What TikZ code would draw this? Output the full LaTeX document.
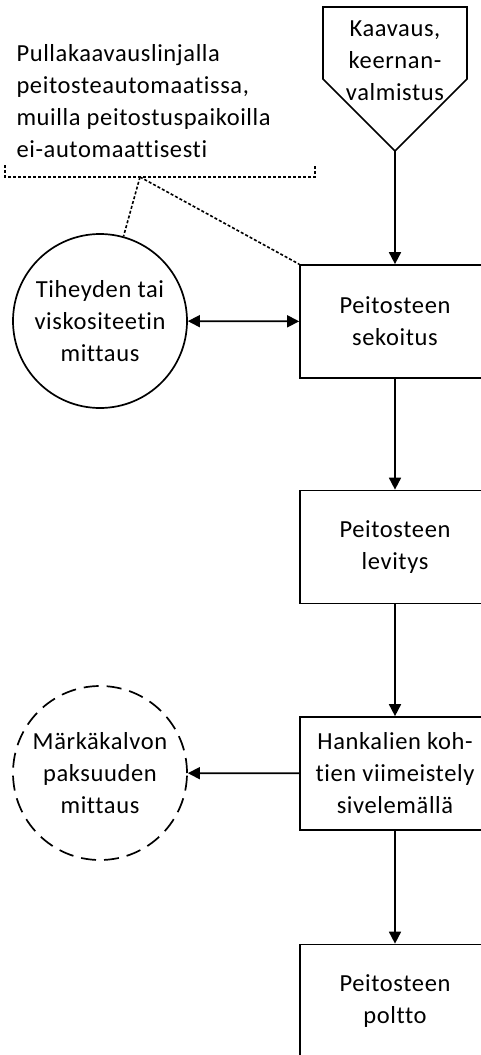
\documentclass[tikz,border=0pt]{standalone}
\usepackage{fontspec}
\setmainfont{Carlito}[LetterSpace=2.5, Ligatures={NoCommon}]
\usetikzlibrary{arrows.meta}
\begin{document}
\begin{tikzpicture}[x=1pt,y=-1pt,
  every node/.style={font=\fontsize{24.5}{32}\selectfont, align=center},
  line/.style={line width=1.7pt},
  flow/.style={line, -{Triangle[length=12pt,width=12pt]}},
  both/.style={line, {Triangle[length=12pt,width=12pt]}-{Triangle[length=12pt,width=12pt]}},
  hint/.style={line width=1.6pt, dash pattern=on 3pt off 2pt},
  stepbox/.style={draw, line width=1.7pt, minimum width=190pt, minimum height=113pt, inner sep=0pt},
  meter/.style={draw, circle, line width=1.7pt, minimum size=174pt, inner sep=0pt}]
\useasboundingbox (0,0) rectangle (480,1055);

% off-page connector at the top
\draw[line] (323,7) -- (467,7) -- (467,79) -- (395,151) -- (323,79) -- cycle;
\coordinate (srctip) at (395,151);
\node (src) at (395,61) {Kaavaus,\\keernan-\\valmistus};

% process steps
\node[stepbox] (mix)   at (395,321.5) {Peitosteen\\sekoitus};
\node[stepbox] (apply) at (395,547)   {Peitosteen\\levitys};
\node[stepbox] (touch) at (395,773.5) {Hankalien koh-\\tien viimeistely\\sivelemällä};
\node[stepbox] (fire)  at (395,1001)  {Peitosteen\\poltto};

% measurements
\node[meter] (dens) at (100,321) {Tiheyden tai\\viskositeetin\\mittaus};
\node[meter, dash pattern=on 15pt off 8pt] (wet) at (100,773) {Märkäkalvon\\paksuuden\\mittaus};

% annotation with its bracket
\node[align=left, anchor=west] (note) at (13,101) {Pullakaavauslinjalla\\peitosteautomaatissa,\\muilla peitostuspaikoilla\\ei-automaattisesti};
\draw[hint] (5,165) -- (5,177) -- (315,177) -- (315,165);
\coordinate (brk) at (140,177);
\draw[hint] (brk) -- (dens);
\draw[hint] (brk) -- (mix.north west);

% connectors
\draw[flow] (srctip) -- (mix);
\draw[flow] (mix) -- (apply);
\draw[flow] (apply) -- (touch);
\draw[flow] (touch) -- (fire);
\draw[both] (dens) -- (mix);
\draw[flow] (touch) -- (wet);
\end{tikzpicture}
\end{document}
